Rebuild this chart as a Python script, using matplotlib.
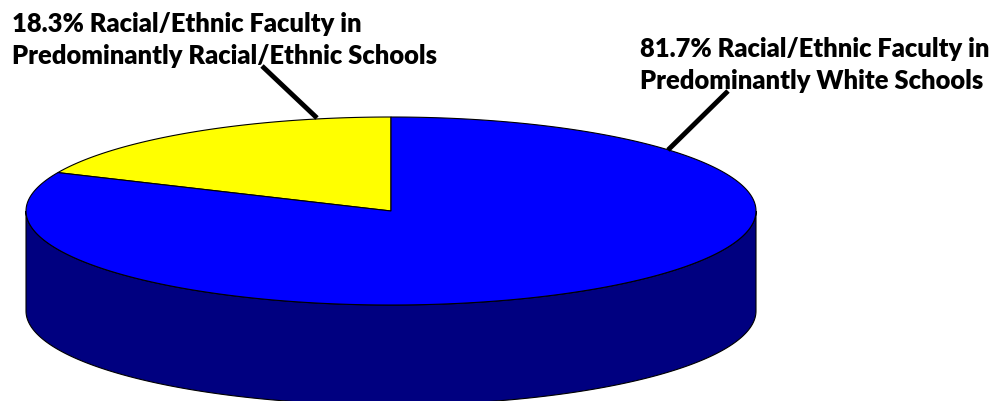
import numpy as np
import matplotlib
matplotlib.use("Agg")
import matplotlib.pyplot as plt
from matplotlib.patches import Polygon

# Data
categories = ["Racial/Ethnic Faculty in Predominantly Racial/Ethnic Schools",
              "Racial/Ethnic Faculty in Predominantly White Schools"]
shares = [18.3, 81.7]
label_lines = [["18.3% Racial/Ethnic Faculty in", "Predominantly Racial/Ethnic Schools"],
               ["81.7% Racial/Ethnic Faculty in", "Predominantly White Schools"]]
colors = ["#FFFF00", "#0000FF"]
side_colors = ["#808000", "#000080"]

W, H = 1006, 402
fig = plt.figure(figsize=(W / 100, H / 100), dpi=100)
ax = fig.add_axes([0, 0, 1, 1])
ax.set_xlim(0, W)
ax.set_ylim(H, 0)
ax.axis("off")

# Pie geometry (pixel space)
cx, cy, rx, ry, depth = 391, 212, 365, 94, 100
start = 90.0  # degrees, counter-clockwise


def pt(theta_deg, dz=0.0):
    t = np.radians(theta_deg)
    return cx + rx * np.cos(t), cy - ry * np.sin(t) + dz


total = sum(shares)
angles = [start]
for s in shares:
    angles.append(angles[-1] + 360.0 * s / total)

# Side walls (visible front half)
for i in range(len(shares)):
    a0, a1 = angles[i], angles[i + 1]
    for lo, hi in [(180, 360), (540, 720)]:
        s0, s1 = max(a0, lo), min(a1, hi)
        if s1 > s0:
            th = np.linspace(s0, s1, 200)
            top = [pt(t) for t in th]
            bot = [pt(t, depth) for t in th[::-1]]
            ax.add_patch(Polygon(top + bot, closed=True, facecolor=side_colors[i],
                                 edgecolor="black", linewidth=0.8, zorder=1))

# Top faces
for i in range(len(shares)):
    th = np.linspace(angles[i], angles[i + 1], 400)
    verts = [(cx, cy)] + [pt(t) for t in th]
    ax.add_patch(Polygon(verts, closed=True, facecolor=colors[i],
                         edgecolor="black", linewidth=0.8, zorder=2))

# Labels and leader lines
font = dict(fontsize=18.4, fontweight="heavy", family=["Lato", "DejaVu Sans"],
            va="baseline", ha="left", zorder=3)
for k, line in enumerate(label_lines[0]):
    ax.text(12, 32 + 32 * k, line, **font)
ax.plot([262, 317], [67, 119], color="black", linewidth=3.5, solid_capstyle="butt", zorder=3)

for k, line in enumerate(label_lines[1]):
    ax.text(640, 57 + 32 * k, line, **font)
ax.plot([728, 668], [92, 151], color="black", linewidth=3.5, solid_capstyle="butt", zorder=3)

fig.savefig("out.png", dpi=100, facecolor="white")
